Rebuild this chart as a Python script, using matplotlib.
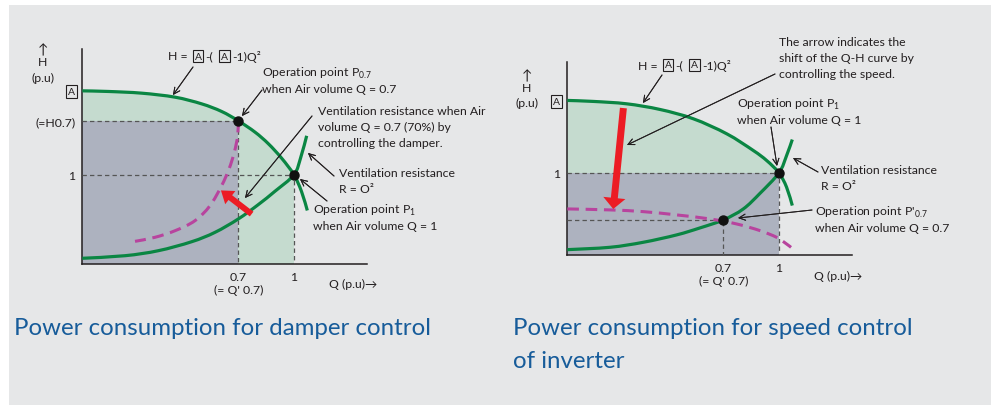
import numpy as np
import matplotlib.pyplot as plt
from matplotlib.patches import Rectangle, PathPatch
from matplotlib.path import Path

# --- data (per-unit values) ---
# left: damper control
d_pump_q = [0, 0.123, 0.280, 0.438, 0.564, 0.658, 0.737, 0.816, 0.879, 0.942, 1.0, 1.036, 1.063]
d_pump_h = [1.941, 1.934, 1.915, 1.870, 1.795, 1.710, 1.605, 1.478, 1.348, 1.185, 1.0, 0.810, 0.600]
d_res_q = [0, 0.202, 0.359, 0.517, 0.627, 0.737, 0.831, 0.910, 1.0, 1.032, 1.060]
d_res_h = [0.064, 0.093, 0.149, 0.250, 0.355, 0.505, 0.665, 0.815, 1.0, 1.195, 1.437]
d_damp_q = [0.737, 0.734, 0.718, 0.693, 0.658, 0.603, 0.532, 0.438, 0.343, 0.249]
d_damp_h = [1.605, 1.437, 1.251, 1.064, 0.877, 0.653, 0.485, 0.373, 0.299, 0.254]
d_points_q = [0.737, 1.0]
d_points_h = [1.605, 1.0]
d_arrow = [(0.80, 0.56), (0.655, 0.825)]   # tail, tip

# right: speed control (inverter)
s_pump_q = [0, 0.123, 0.280, 0.438, 0.595, 0.753, 0.879, 0.942, 1.0, 1.036, 1.063]
s_pump_h = [1.882, 1.870, 1.841, 1.772, 1.659, 1.476, 1.272, 1.150, 1.0, 0.825, 0.602]
s_res_q = [0, 0.202, 0.359, 0.517, 0.627, 0.737, 0.831, 0.910, 1.0, 1.036, 1.063]
s_res_h = [0.065, 0.094, 0.155, 0.245, 0.330, 0.427, 0.560, 0.750, 1.0, 1.211, 1.406]
s_slow_q = [0, 0.202, 0.359, 0.517, 0.674, 0.800, 0.910, 0.989, 1.036, 1.057]
s_slow_h = [0.561, 0.549, 0.528, 0.488, 0.439, 0.378, 0.297, 0.215, 0.134, 0.093]
s_points_q = [0.737, 1.0]
s_points_h = [0.427, 1.0]
s_arrow = [(0.265, 1.789), (0.217, 0.56)]

GREEN = '#0a8643'
GREEN_FILL = '#c5dbcf'
GRAY_FILL = '#adb2bf'
MAGENTA = '#b8449e'
RED = '#ec1c24'
TXT = '#231f20'
BLUE = '#175c9a'
FS = 8.8

plt.rcParams['font.family'] = ['Lato', 'DejaVu Sans']
plt.rcParams['mathtext.fontset'] = 'custom'
plt.rcParams['mathtext.rm'] = 'Lato'

W, H = 991, 406
fig = plt.figure(figsize=(W / 100, H / 100), dpi=100, facecolor='white')
fig.patches.append(Rectangle((9 / W, 0), 1 - 9 / W, 1 - 6 / H, transform=fig.transFigure,
                             facecolor='#e6e7e8', edgecolor='none', zorder=-10))


def px(x, y):
    return (x / W, 1 - y / H)


def ftext(x, y, s, size=FS, **kw):
    kw.setdefault('va', 'center')
    kw.setdefault('ha', 'left')
    return fig.text(x / W, 1 - y / H, s, fontsize=size, color=TXT, **kw)


def lines(x, y, rows, dy=16):
    # y is the centre of the first row; baseline sits ~4px lower
    for i, r in enumerate(rows):
        ftext(x, y + 4 + i * dy, r, va='baseline')


def farrow(x0, y0, x1, y1):
    fig.add_artist(plt.annotate('', xy=px(x1, y1), xytext=px(x0, y0), xycoords='figure fraction',
                                textcoords='figure fraction',
                                arrowprops=dict(arrowstyle='->,head_length=0.45,head_width=0.22',
                                                lw=0.7, color=TXT, shrinkA=0, shrinkB=0,
                                                mutation_scale=10)))


def boxed_a(x, y):
    ftext(x, y, 'A', size=7.5, ha='center',
          bbox=dict(boxstyle='square,pad=0.18', facecolor='none', edgecolor=TXT, lw=0.8))


def curve_path(q, h):
    # smooth curve through the read points (Catmull-Rom -> cubic Bezier)
    p = np.column_stack([q, h])
    n = len(p)
    verts = [p[0]]
    codes = [Path.MOVETO]
    for i in range(n - 1):
        p0 = p[max(i - 1, 0)]
        p3 = p[min(i + 2, n - 1)]
        verts += [p[i] + (p[i + 1] - p0) / 6, p[i + 1] - (p3 - p[i]) / 6, p[i + 1]]
        codes += [Path.CURVE4] * 3
    return verts, codes


def draw_curve(ax, q, h, color, ls='-', lw=2.3):
    verts, codes = curve_path(q, h)
    ax.add_patch(PathPatch(Path(verts, codes), fill=False, edgecolor=color, lw=lw, ls=ls,
                           capstyle='butt', zorder=4))


def fill_under(ax, q, h):
    verts, codes = curve_path(q, h)
    verts = verts + [(q[-1], 0), (0, 0), (0, 0)]
    codes = codes + [Path.LINETO, Path.LINETO, Path.CLOSEPOLY]
    patch = PathPatch(Path(verts, codes), facecolor=GREEN_FILL, edgecolor='none', zorder=1)
    ax.add_patch(patch)
    clip = Rectangle((0, 0), 1.0, 3, transform=ax.transData)
    patch.set_clip_path(clip)


def make_axes(rect, ymax):
    ax = fig.add_axes(rect)
    ax.set_facecolor('none')
    ax.set_xlim(0, 1.345)
    ax.set_ylim(0, ymax)
    for s in ['top', 'right']:
        ax.spines[s].set_visible(False)
    for s in ['left', 'bottom']:
        ax.spines[s].set_linewidth(1.1)
        ax.spines[s].set_color(TXT)
    ax.tick_params(length=0, colors=TXT, labelsize=FS)
    return ax


def box_tick(label):
    label.set_fontsize(7.5)
    label.set_bbox(dict(boxstyle='square,pad=0.18', facecolor='none', edgecolor=TXT, lw=0.8))


dash = dict(color='#555555', lw=0.9, ls=(0, (3.5, 2.5)), zorder=3)
mag_ls = (0, (3.8, 2.2))
red_left = 'simple,head_length=8.5,head_width=12,tail_width=4.3'
red_right = 'simple,head_length=8,head_width=16,tail_width=5'

# ---------------- left chart ----------------
ax1 = make_axes([82.3 / W, 1 - 265 / H, (367 - 82.3) / W, (265 - 50) / H], 2.41)
fill_under(ax1, d_pump_q, d_pump_h)
ax1.add_patch(Rectangle((0, 0), d_points_q[0], d_points_h[0], color=GRAY_FILL, lw=0, zorder=2))
ax1.plot([0, d_points_q[0], d_points_q[0]], [d_points_h[0], d_points_h[0], 0], **dash)
ax1.plot([0, d_points_q[1], d_points_q[1]], [d_points_h[1], d_points_h[1], 0], **dash)
draw_curve(ax1, d_pump_q, d_pump_h, GREEN)
draw_curve(ax1, d_res_q, d_res_h, GREEN)
draw_curve(ax1, d_damp_q, d_damp_h, MAGENTA, ls=mag_ls, lw=2.2)
ax1.plot(d_points_q, d_points_h, 'o', color='#111111', ms=6.5, zorder=6)
ax1.annotate('', xy=d_arrow[1], xytext=d_arrow[0],
             arrowprops=dict(arrowstyle=red_left, mutation_scale=1, color=RED, lw=0,
                             shrinkA=0, shrinkB=0), zorder=7)
ax1.set_xticks([0.737, 1.0], ["0.7\n(= Q' 0.7)", '1'], linespacing=1.25)
ax1.set_yticks([1.0, d_points_h[0], 1.941], ['1', '(=H0.7)', 'A'])
ax1.tick_params(axis='x', pad=5)
ax1.tick_params(axis='y', pad=5)
box_tick(ax1.get_yticklabels()[2])

# ---------------- right chart ----------------
ax2 = make_axes([567.3 / W, 1 - 256 / H, (852 - 567.3) / W, (256 - 63) / H], 2.35)
fill_under(ax2, s_pump_q, s_pump_h)
ax2.add_patch(Rectangle((0, 0), 1.0, 1.0, color=GRAY_FILL, lw=0, zorder=2))
ax2.plot([0, s_points_q[0], s_points_q[0]], [s_points_h[0], s_points_h[0], 0], **dash)
ax2.plot([0, s_points_q[1], s_points_q[1]], [s_points_h[1], s_points_h[1], 0], **dash)
draw_curve(ax2, s_pump_q, s_pump_h, GREEN)
draw_curve(ax2, s_res_q, s_res_h, GREEN)
draw_curve(ax2, s_slow_q, s_slow_h, MAGENTA, ls=mag_ls, lw=2.2)
ax2.plot(s_points_q, s_points_h, 'o', color='#111111', ms=6.5, zorder=6)
ax2.annotate('', xy=s_arrow[1], xytext=s_arrow[0],
             arrowprops=dict(arrowstyle=red_right, mutation_scale=1, color=RED, lw=0,
                             shrinkA=0, shrinkB=0), zorder=7)
ax2.set_xticks([0.737, 1.0], ["0.7\n(= Q' 0.7)", '1'], linespacing=1.25)
ax2.set_yticks([1.0, 1.882], ['1', 'A'])
ax2.tick_params(axis='x', pad=5)
ax2.tick_params(axis='y', pad=5)
box_tick(ax2.get_yticklabels()[1])

# ---------------- annotations ----------------
for (cx, ys) in [(43, (50, 63, 78)), (527, (76, 89, 103))]:
    ftext(cx, ys[0], '↑', size=10, ha='center')
    ftext(cx, ys[1], 'H', ha='center')
    ftext(cx, ys[2], '(p.u)', ha='center')

for (x0, y0) in [(168, 57), (638, 66)]:
    ftext(x0, y0, 'H =')
    boxed_a(x0 + 30, y0)
    ftext(x0 + 37, y0, '-(')
    boxed_a(x0 + 56.5, y0)
    ftext(x0 + 64, y0, '-1)Q²')

ftext(329, 284, 'Q (p.u)→')
ftext(814, 276, 'Q (p.u)→')

# left
lines(262, 73, ['Operation point P$_\\mathregular{0.7}$', 'when Air volume Q = 0.7'])
lines(318, 111, ['Ventilation resistance when Air', 'volume Q = 0.7 (70%) by',
                 'controlling the damper.'])
lines(339, 173, ['Ventilation resistance', 'R = O²'])
lines(313, 210, ['Operation point P$_\\mathregular{1}$', 'when Air volume Q = 1'])
farrow(193, 68, 173, 96)
farrow(262, 91, 242, 117)
farrow(312, 117, 245, 199)
farrow(334, 177, 308, 154)
farrow(327, 202, 300, 180)

# right
lines(779, 42, ['The arrow indicates the', 'shift of the Q-H curve by', 'controlling the speed.'])
lines(737, 104, ['Operation point P$_\\mathregular{1}$', 'when Air volume Q = 1'])
lines(821, 170, ['Ventilation resistance', 'R = O²'])
lines(815, 212, ["Operation point P'$_\\mathregular{0.7}$", 'when Air volume Q = 0.7'])
farrow(662, 76, 643, 104)
farrow(775, 75, 627, 146)
farrow(771, 128, 777, 167)
farrow(818, 173, 793, 159)
farrow(812, 211, 738, 219)

# captions
cap = dict(fontsize=17.3, color=BLUE, va='center', ha='left')
fig.text(14 / W, 1 - 329 / H, 'Power consumption for damper control', **cap)
fig.text(513 / W, 1 - 329 / H, 'Power consumption for speed control', **cap)
fig.text(513 / W, 1 - 362 / H, 'of inverter', **cap)

fig.savefig('out.png', dpi=100, facecolor=fig.get_facecolor())
